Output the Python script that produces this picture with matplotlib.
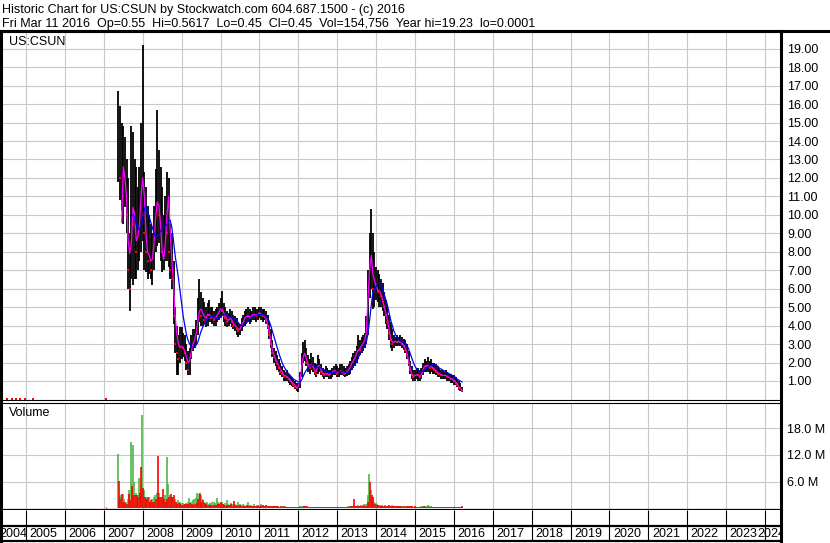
import numpy as np
import matplotlib
matplotlib.use("Agg")
import matplotlib.pyplot as plt
from matplotlib.lines import Line2D

plt.rcParams['font.family'] = ['Liberation Sans', 'DejaVu Sans']

# semi-monthly samples, from the listing (May 2007) to Mar 2016
start_year = 2007.375
highs = [16.7, 15.9, 15.0, 14.8, 14.2, 13.0, 12.0, 9.0, 14.8, 14.5, 13.0, 12.6,
         11.5, 12.6, 15.0, 19.2, 12.3, 11.5, 10.5, 10.0, 9.5, 9.0, 10.5, 12.5,
         15.7, 13.5, 12.6, 11.5, 10.0, 11.0, 12.3, 12.0, 9.5, 9.0, 7.5, 5.0,
         4.0, 3.5, 3.9, 3.9, 3.6, 3.5, 3.0, 2.6, 2.8, 3.5, 3.8, 3.8,
         4.3, 5.5, 6.5, 5.8, 5.5, 5.3, 5.0, 5.2, 5.4, 5.0, 5.0, 4.8,
         4.9, 5.0, 5.2, 5.5, 5.9, 5.2, 5.0, 4.8, 4.7, 4.9, 4.8, 4.6,
         4.5, 4.4, 4.2, 4.1, 4.4, 4.6, 4.8, 4.9, 5.0, 4.9, 4.8, 5.0,
         5.0, 4.9, 4.9, 5.0, 5.0, 4.9, 4.9, 4.8, 4.6, 4.2, 3.8, 3.2,
         2.8, 2.6, 2.4, 2.2, 2.0, 1.8, 1.6, 1.5, 1.6, 1.4, 1.3, 1.2,
         1.1, 1.0, 0.9, 0.9, 1.5, 2.5, 3.1, 3.2, 2.8, 2.4, 2.2, 2.5,
         2.3, 2.0, 1.9, 2.4, 2.2, 1.9, 1.7, 1.6, 1.8, 1.7, 1.6, 1.6,
         1.7, 1.8, 1.9, 1.8, 1.7, 1.9, 1.9, 1.8, 1.7, 1.8, 1.9, 2.1,
         2.3, 2.5, 2.6, 2.9, 3.5, 3.2, 3.4, 3.5, 3.6, 4.5, 7.0, 9.0,
         10.3, 9.0, 8.0, 7.2, 7.0, 6.8, 6.5, 6.3, 5.8, 5.4, 5.0, 4.6,
         4.2, 3.8, 3.5, 3.4, 3.5, 3.4, 3.5, 3.4, 3.3, 3.2, 3.0, 2.6,
         2.1, 1.8, 1.6, 1.6, 1.7, 1.7, 1.6, 1.7, 2.0, 2.2, 2.1, 2.3,
         2.1, 2.2, 2.0, 2.0, 1.9, 1.8, 1.7, 1.6, 1.6, 1.5, 1.6, 1.5,
         1.4, 1.4, 1.3, 1.3, 1.2, 1.1, 1.0, 0.9, 0.7]
lows = [11.8, 10.8, 10.2, 9.5, 10.4, 9.0, 6.0, 4.8, 6.5, 6.2, 6.5, 6.5,
        7.0, 7.5, 8.0, 8.6, 7.0, 6.9, 6.5, 6.8, 6.5, 6.2, 7.0, 8.0,
        8.3, 8.5, 7.5, 6.9, 7.0, 7.5, 7.5, 7.2, 6.5, 6.0, 4.1, 2.5,
        1.3, 1.3, 2.0, 2.2, 2.3, 2.1, 1.6, 1.3, 1.3, 2.2, 2.6, 2.8,
        3.0, 3.5, 4.2, 4.0, 4.0, 4.1, 3.9, 4.0, 4.2, 4.2, 4.1, 4.0,
        4.0, 4.2, 4.3, 4.4, 4.5, 4.2, 4.0, 3.9, 4.0, 4.1, 3.9, 3.8,
        3.7, 3.5, 3.4, 3.5, 3.7, 3.9, 4.0, 4.1, 4.2, 4.1, 4.2, 4.3,
        4.3, 4.2, 4.3, 4.4, 4.3, 4.2, 4.3, 4.1, 3.8, 3.3, 2.8, 2.3,
        2.0, 1.8, 1.6, 1.5, 1.3, 1.2, 1.0, 1.0, 1.0, 0.9, 0.8, 0.75,
        0.65, 0.55, 0.45, 0.4, 0.6, 1.2, 2.0, 2.1, 1.8, 1.5, 1.4, 1.6,
        1.5, 1.3, 1.2, 1.4, 1.5, 1.3, 1.2, 1.1, 1.2, 1.2, 1.1, 1.1,
        1.2, 1.3, 1.3, 1.2, 1.2, 1.3, 1.3, 1.25, 1.2, 1.25, 1.3, 1.4,
        1.6, 1.7, 1.8, 2.0, 2.2, 2.4, 2.5, 2.6, 2.8, 3.0, 3.5, 5.5,
        6.0, 4.9, 5.0, 5.4, 5.3, 5.0, 5.0, 4.8, 4.5, 4.1, 3.8, 3.2,
        2.8, 2.6, 2.8, 2.9, 2.9, 2.9, 2.9, 2.8, 2.7, 2.5, 2.2, 1.8,
        1.4, 1.1, 1.0, 1.0, 1.1, 1.0, 1.0, 1.1, 1.3, 1.5, 1.5, 1.5,
        1.4, 1.5, 1.4, 1.4, 1.3, 1.2, 1.2, 1.1, 1.1, 1.1, 1.1, 1.0,
        1.0, 0.9, 0.9, 0.8, 0.8, 0.7, 0.5, 0.45, 0.4]
closes = [13.0, 12.0, 13.5, 11.0, 12.5, 10.0, 7.0, 6.0, 10.0, 9.5, 10.5, 8.0,
          9.5, 10.0, 12.0, 10.0, 9.0, 8.0, 7.5, 9.0, 7.0, 7.5, 9.0, 11.0,
          12.0, 10.0, 9.0, 8.0, 8.5, 9.5, 9.0, 8.0, 7.0, 6.5, 4.5, 3.0,
          2.5, 2.2, 3.0, 3.2, 2.8, 2.5, 2.0, 1.6, 2.4, 3.0, 3.2, 3.4,
          4.0, 4.8, 5.0, 4.5, 4.6, 4.3, 4.5, 4.8, 4.6, 4.4, 4.6, 4.3,
          4.5, 4.7, 4.8, 5.0, 4.8, 4.5, 4.4, 4.2, 4.4, 4.5, 4.2, 4.0,
          4.1, 3.8, 3.7, 3.9, 4.2, 4.3, 4.5, 4.6, 4.5, 4.4, 4.6, 4.7,
          4.6, 4.5, 4.7, 4.7, 4.6, 4.5, 4.6, 4.3, 4.0, 3.5, 3.0, 2.5,
          2.3, 2.1, 1.9, 1.7, 1.5, 1.4, 1.2, 1.3, 1.2, 1.1, 1.0, 0.9,
          0.8, 0.7, 0.6, 0.7, 1.3, 2.2, 2.6, 2.4, 2.0, 1.8, 1.7, 2.0,
          1.8, 1.5, 1.4, 2.0, 1.8, 1.5, 1.4, 1.3, 1.5, 1.4, 1.3, 1.4,
          1.5, 1.6, 1.5, 1.4, 1.5, 1.6, 1.5, 1.4, 1.4, 1.5, 1.6, 1.8,
          2.0, 2.1, 2.3, 2.6, 2.8, 2.7, 3.0, 3.1, 3.2, 4.0, 6.5, 7.5,
          8.0, 6.0, 6.5, 6.2, 5.8, 6.0, 5.6, 5.3, 5.0, 4.6, 4.2, 3.6,
          3.2, 3.0, 3.1, 3.2, 3.1, 3.2, 3.1, 3.0, 2.9, 2.7, 2.4, 2.0,
          1.6, 1.3, 1.2, 1.3, 1.4, 1.3, 1.2, 1.4, 1.7, 1.9, 1.8, 1.9,
          1.7, 1.8, 1.7, 1.6, 1.5, 1.4, 1.4, 1.3, 1.3, 1.3, 1.3, 1.2,
          1.2, 1.1, 1.1, 1.0, 0.9, 0.8, 0.6, 0.6, 0.45]
nan = float('nan')
ma_fast = [nan, nan, 9.6, 12.6, 12.0, 11.0, 8.6, 7.9, 8.5, 10.4, 10.0, 8.6,
           8.8, 9.5, 11.0, 12.0, 11.0, 9.0, 8.0, 7.8, 7.5, 7.6, 8.5, 9.8,
           10.7, 10.5, 9.5, 8.0, 7.6, 8.5, 10.0, 11.0, 9.0, 7.5, 6.3, 4.5,
           3.6, 3.0, 2.8, 2.9, 2.8, 2.6, 2.3, 2.0, 2.1, 2.6, 3.0, 3.2,
           3.6, 4.2, 4.8, 4.9, 4.7, 4.5, 4.4, 4.6, 4.6, 4.5, 4.5, 4.4,
           4.4, 4.6, 4.7, 4.9, 4.9, 4.7, 4.5, 4.3, 4.3, 4.4, 4.3, 4.1,
           4.0, 3.9, 3.8, 3.8, 4.0, 4.2, 4.4, 4.5, 4.5, 4.5, 4.5, 4.6,
           4.6, 4.6, 4.6, 4.7, 4.6, 4.6, 4.5, 4.4, 4.1, 3.7, 3.2, 2.7,
           2.4, 2.2, 2.0, 1.8, 1.6, 1.5, 1.3, 1.3, 1.2, 1.15, 1.05, 0.95,
           0.85, 0.75, 0.65, 0.7, 1.0, 1.7, 2.3, 2.5, 2.2, 1.9, 1.8, 1.9,
           1.8, 1.6, 1.5, 1.8, 1.8, 1.6, 1.45, 1.35, 1.4, 1.4, 1.35, 1.4,
           1.5, 1.55, 1.55, 1.45, 1.5, 1.55, 1.5, 1.45, 1.4, 1.5, 1.6, 1.75,
           1.95, 2.1, 2.25, 2.5, 2.7, 2.75, 2.9, 3.05, 3.2, 3.7, 5.5, 7.0,
           7.8, 6.8, 6.4, 6.2, 5.9, 5.9, 5.7, 5.4, 5.0, 4.7, 4.3, 3.8,
           3.3, 3.1, 3.1, 3.15, 3.1, 3.15, 3.1, 3.05, 2.95, 2.75, 2.5, 2.1,
           1.7, 1.4, 1.25, 1.3, 1.35, 1.3, 1.25, 1.35, 1.6, 1.8, 1.8, 1.85,
           1.75, 1.8, 1.7, 1.65, 1.55, 1.45, 1.4, 1.35, 1.3, 1.3, 1.3, 1.25,
           1.2, 1.15, 1.1, 1.05, 0.95, 0.85, 0.7, 0.6, 0.5]
ma_slow = [nan, nan, nan, nan, nan, nan, nan, nan, 9.9, 10.0, 9.9, 9.5,
           9.3, 9.2, 9.4, 9.8, 10.3, 10.5, 10.2, 9.9, 9.6, 9.3, 9.0, 8.8,
           8.8, 8.9, 9.1, 9.2, 9.3, 9.4, 9.5, 9.7, 9.7, 9.3, 8.6, 7.8,
           7.2, 6.6, 5.9, 5.2, 4.5, 4.0, 3.5, 3.2, 3.0, 2.85, 2.8, 2.85,
           2.95, 3.1, 3.4, 3.7, 3.9, 4.1, 4.25, 4.35, 4.45, 4.5, 4.5, 4.45,
           4.4, 4.35, 4.4, 4.5, 4.55, 4.6, 4.6, 4.55, 4.5, 4.45, 4.45, 4.4,
           4.35, 4.25, 4.15, 4.05, 4.0, 4.0, 4.05, 4.15, 4.25, 4.35, 4.45, 4.5,
           4.55, 4.55, 4.6, 4.6, 4.6, 4.6, 4.55, 4.5, 4.4, 4.25, 4.0, 3.7,
           3.4, 3.1, 2.8, 2.5, 2.25, 2.0, 1.8, 1.65, 1.5, 1.4, 1.3, 1.2,
           1.1, 1.05, 1.0, 0.95, 0.95, 1.05, 1.25, 1.45, 1.6, 1.7, 1.8, 1.85,
           1.85, 1.8, 1.75, 1.75, 1.75, 1.7, 1.65, 1.6, 1.55, 1.5, 1.45, 1.45,
           1.45, 1.45, 1.5, 1.5, 1.5, 1.5, 1.5, 1.5, 1.45, 1.45, 1.5, 1.55,
           1.65, 1.8, 1.9, 2.05, 2.25, 2.45, 2.6, 2.75, 2.9, 3.1, 3.6, 4.3,
           5.1, 5.8, 6.0, 6.1, 6.3, 6.3, 6.2, 6.0, 5.7, 5.4, 5.1, 4.7,
           4.3, 4.0, 3.7, 3.5, 3.35, 3.25, 3.15, 3.1, 3.1, 3.05, 2.95, 2.75,
           2.5, 2.25, 2.0, 1.8, 1.65, 1.55, 1.5, 1.5, 1.55, 1.6, 1.7, 1.75,
           1.8, 1.85, 1.9, 1.9, 1.85, 1.8, 1.7, 1.65, 1.6, 1.55, 1.5, 1.45,
           1.4, 1.35, 1.3, 1.25, 1.2, 1.1, 1.05, 1.0, 0.95]
# volume in millions, up days (green) and down days (red)
vol_up = [12.2, 3.0, 2.5, 3.2, 2.0, 1.5, 2.0, 4.0, 14.9, 14.2, 6.0, 3.5,
          3.0, 6.8, 5.0, 21.0, 4.0, 2.5, 2.0, 2.5, 1.5, 2.0, 2.5, 3.0,
          3.5, 3.5, 2.0, 2.5, 2.0, 3.0, 11.6, 5.5, 3.0, 2.0, 2.5, 2.0,
          1.5, 1.8, 1.4, 1.2, 1.2, 1.0, 1.2, 1.5, 2.3, 1.5, 1.8, 2.0,
          2.2, 3.5, 3.3, 3.0, 2.0, 1.5, 1.2, 1.5, 1.0, 1.2, 1.4, 1.4,
          1.2, 2.2, 1.5, 1.2, 1.4, 1.0, 1.2, 1.9, 1.0, 0.8, 1.2, 0.9,
          1.0, 0.8, 1.3, 0.9, 0.8, 1.0, 0.8, 0.6, 1.4, 0.7, 0.8, 0.6,
          0.9, 0.6, 0.7, 0.8, 1.0, 0.7, 0.6, 0.5, 0.6, 0.5, 0.5, 0.4,
          0.5, 0.4, 0.6, 0.4, 0.3, 0.4, 0.3, 0.4, 0.3, 0.3, 0.2, 0.3,
          0.2, 0.3, 0.2, 0.3, 0.5, 0.6, 0.5, 0.4, 0.3, 0.3, 0.25, 0.3,
          0.25, 0.2, 0.3, 0.25, 0.2, 0.3, 0.25, 0.2, 0.3, 0.25, 0.2, 0.3,
          0.25, 0.3, 0.2, 0.25, 0.3, 0.25, 0.3, 0.35, 0.3, 0.35, 0.4, 0.5,
          0.4, 0.5, 0.45, 0.6, 0.7, 0.6, 0.7, 0.8, 0.9, 1.0, 3.0, 7.7,
          4.0, 2.0, 1.5, 1.2, 1.0, 0.8, 0.7, 0.8, 0.6, 0.7, 0.6, 0.5,
          0.6, 0.8, 0.5, 0.4, 0.5, 0.4, 0.5, 0.4, 0.35, 0.4, 0.3, 0.4,
          0.5, 0.4, 0.35, 0.4, 0.3, 0.35, 0.3, 0.4, 0.5, 0.45, 0.4, 0.75,
          0.5, 0.4, 0.35, 0.3, 0.35, 0.3, 0.3, 0.25, 0.3, 0.25, 0.3, 0.25,
          0.3, 0.25, 0.3, 0.25, 0.3, 0.25, 0.3, 0.25, 0.2]
vol_dn = [6.1, 2.0, 3.3, 1.5, 1.2, 1.0, 3.3, 1.8, 4.9, 3.0, 3.0, 3.0,
          2.5, 3.5, 9.3, 4.5, 2.5, 2.0, 2.5, 1.5, 1.8, 1.5, 1.5, 2.0,
          11.8, 2.5, 2.5, 4.4, 2.0, 1.5, 2.0, 2.5, 3.3, 2.5, 3.0, 1.4,
          1.0, 1.2, 1.0, 0.8, 0.8, 1.0, 0.9, 1.0, 1.2, 1.0, 0.8, 1.0,
          1.2, 2.0, 3.5, 1.5, 1.8, 1.2, 1.0, 0.8, 0.7, 0.8, 0.6, 0.7,
          0.8, 1.0, 0.9, 1.4, 1.0, 0.8, 0.6, 0.8, 0.7, 1.0, 0.6, 1.6,
          0.6, 0.7, 0.5, 0.8, 0.6, 0.5, 0.6, 0.7, 0.5, 0.6, 0.5, 0.4,
          0.5, 0.6, 0.4, 0.5, 0.6, 0.8, 0.5, 0.7, 0.4, 0.6, 0.6, 0.5,
          0.4, 0.5, 0.4, 0.3, 0.4, 0.3, 0.4, 0.3, 0.3, 0.2, 0.3, 0.2,
          0.3, 0.2, 0.3, 0.3, 0.3, 0.3, 0.4, 0.5, 0.4, 0.3, 0.25, 0.3,
          0.3, 0.25, 0.3, 0.2, 0.25, 0.3, 0.2, 0.25, 0.3, 0.2, 0.25, 0.2,
          0.3, 0.25, 0.3, 0.2, 0.25, 0.3, 0.25, 0.3, 0.25, 0.3, 0.35, 0.4,
          0.5, 2.1, 0.4, 0.5, 0.5, 0.6, 0.5, 0.6, 0.6, 0.6, 1.5, 5.8,
          3.0, 2.5, 1.0, 0.8, 0.7, 0.6, 0.6, 0.5, 0.6, 0.5, 0.6, 0.7,
          0.5, 0.4, 0.4, 0.5, 0.4, 0.5, 0.4, 0.35, 0.4, 0.3, 0.4, 0.5,
          0.6, 0.4, 0.35, 0.4, 0.3, 0.3, 0.35, 0.3, 0.4, 0.3, 0.35, 0.3,
          0.3, 0.35, 0.3, 0.25, 0.3, 0.3, 0.25, 0.3, 0.25, 0.3, 0.25, 0.3,
          0.25, 0.3, 0.25, 0.3, 0.25, 0.3, 0.3, 0.35, 0.4]

# a few near-zero prints before the listing
pre_years = [2004.52, 2004.63, 2004.74, 2004.85, 2004.97, 2005.19, 2007.05]
pre_price = [0.0001, 0.0001, 0.0001, 0.0001, 0.0001, 0.0001, 0.0001]
pre_vol = [0.15, 0.15, 0.1, 0.15, 0.1, 0.15, 0.2]

years = list(range(2004, 2025))
price_ticks = list(range(1, 20))
vol_ticks = [6, 12, 18]

header1 = "Historic Chart for US:CSUN by Stockwatch.com 604.687.1500 - (c) 2016"
header2 = ("Fri Mar 11 2016  Op=0.55  Hi=0.5617  Lo=0.45  Cl=0.45  "
           "Vol=154,756  Year hi=19.23  lo=0.0001")

t = start_year + np.arange(len(closes)) / 24.0
closes_arr = np.array(closes)
# red close ticks on the periods that closed lower
down = np.r_[False, closes_arr[1:] < closes_arr[:-1]]

W, H = 830, 543
fig = plt.figure(figsize=(W / 100, H / 100), dpi=100)
fig.patch.set_facecolor('white')


def rect(x0, y0, x1, y1):
    return [x0 / W, 1 - y1 / H, (x1 - x0) / W, (y1 - y0) / H]


x_left, x_right = 2004.357, 2024.409
grid_col = '#c8c8c8'
thick = 2.2

ax_p = fig.add_axes(rect(1, 31, 781, 400))
ax_v = fig.add_axes(rect(1, 402.5, 781, 509.5))
ax_x = fig.add_axes(rect(1, 509.5, 781, 541))

for ax in (ax_p, ax_v):
    ax.set_xticks(years[1:])
    ax.set_xticklabels([])
    ax.set_xlim(x_left, x_right)
    ax.tick_params(axis='x', length=0)
    ax.grid(True, color=grid_col, lw=0.8)
    ax.set_axisbelow(True)
    ax.yaxis.tick_right()
    ax.tick_params(axis='y', length=0, pad=4.5, labelsize=9)
    for s in ('left', 'right'):
        ax.spines[s].set_linewidth(thick)

# price panel
ax_p.set_yticks(price_ticks)
ax_p.set_yticklabels(['%.2f' % v for v in price_ticks])
ax_p.set_ylim(-0.03, 19.96)
ax_p.spines['top'].set_linewidth(thick)
ax_p.spines['bottom'].set_linewidth(0.8)
ax_p.vlines(t, lows, highs, color='black', lw=1.3, zorder=2)
ax_p.plot(t[down], closes_arr[down], 's', color='#ff0000', ms=1.6, mew=0, zorder=3)
ax_p.plot(pre_years, pre_price, 's', color='#ff0000', ms=2, mew=0, zorder=3, clip_on=False)
ax_p.plot(t, ma_fast, color='#ff00ff', lw=0.9, zorder=4)
ax_p.plot(t, ma_slow, color='#0000ff', lw=0.9, zorder=5)
ax_p.text(8 / 780, (400 - 41.7) / 369, 'US:CSUN', transform=ax_p.transAxes,
          fontsize=9, va='center', ha='left')

# volume panel
ax_v.set_yticks(vol_ticks)
ax_v.set_yticklabels(['%.1f M' % v for v in vol_ticks])
ax_v.set_ylim(-0.3, 23.8)
ax_v.spines['top'].set_linewidth(0.8)
ax_v.spines['bottom'].set_linewidth(1.6)
ax_v.vlines(t - 1 / 96, 0, vol_up, color='#4cb848', lw=1.2, zorder=2)
ax_v.vlines(t + 1 / 96, 0, vol_dn, color='#ff0000', lw=1.2, zorder=3)
ax_v.vlines(pre_years, 0, pre_vol, color='#ff0000', lw=1.0, zorder=3)
ax_v.text(8 / 780, (509.5 - 413) / 107, 'Volume', transform=ax_v.transAxes,
          fontsize=9, va='center', ha='left')

# year strip
ax_x.set_xticks([])
ax_x.set_yticks([])
ax_x.set_xlim(x_left, x_right)
ax_x.set_ylim(0, 1)
ax_x.spines['top'].set_visible(False)
ax_x.spines['bottom'].set_linewidth(1.6)
for s in ('left', 'right'):
    ax_x.spines[s].set_linewidth(thick)
ax_x.axhline(0.476, color='black', lw=1.6)
ax_x.vlines(years, 0, 1, color='black', lw=0.8)
for y in years:
    # the end labels are pushed inside the strip, as on the original
    pos = min(max(y + 0.09, x_left - 0.05), x_right - 0.62)
    ax_x.text(pos, 0.21, str(y), fontsize=9, ha='left', va='center', clip_on=True)

# header
fig.add_artist(Line2D([0, 1], [1 - 31 / H, 1 - 31 / H], color='black', lw=thick))
fig.text(2 / W, 1 - 12.7 / H, header1, fontsize=9, va='baseline', ha='left')
fig.text(2 / W, 1 - 26.7 / H, header2, fontsize=9, va='baseline', ha='left')

fig.savefig('out.png', dpi=100, facecolor='white')
